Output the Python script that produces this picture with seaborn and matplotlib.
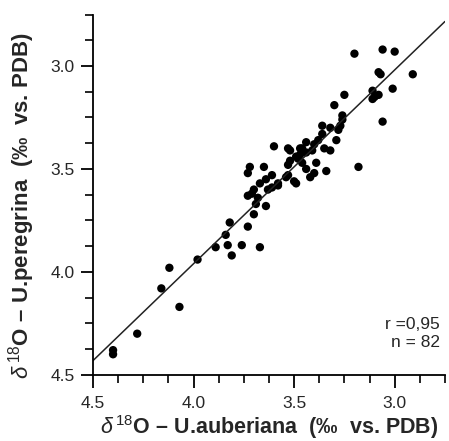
import numpy as np
import pandas as pd
import matplotlib
matplotlib.use("Agg")
import matplotlib.pyplot as plt
import seaborn as sns
from matplotlib.ticker import MultipleLocator

auberiana = [3.20, 3.06, 3.00, 2.91, 3.08, 3.07, 3.01, 3.11, 3.10, 3.08, 3.11, 3.06,
             3.25, 3.30, 3.26, 3.26, 3.27, 3.28, 3.36, 3.36, 3.29, 3.18,
             3.60, 3.53, 3.44, 3.40, 3.47, 3.46, 3.41, 3.35, 3.32, 3.49, 3.48, 3.53,
             3.46, 3.44, 3.39, 3.34, 3.40, 3.42, 3.72, 3.73, 3.65, 3.61, 3.53, 3.54,
             3.50, 3.49, 3.58, 3.58, 3.67, 3.63, 3.61, 3.70, 3.71, 3.73, 3.68, 3.69,
             3.64, 3.70, 3.82, 3.73, 3.84, 3.89, 3.83, 3.76, 3.67, 3.81, 3.98, 4.12,
             4.16, 4.07, 4.28, 4.40, 4.40, 3.47, 3.52, 3.38, 3.64, 3.32, 3.44, 3.52]
peregrina = [2.94, 2.92, 2.93, 3.04, 3.03, 3.04, 3.11, 3.12, 3.15, 3.14, 3.16, 3.27,
             3.14, 3.19, 3.24, 3.26, 3.29, 3.31, 3.29, 3.33, 3.36, 3.49,
             3.39, 3.40, 3.37, 3.38, 3.40, 3.40, 3.41, 3.40, 3.41, 3.44, 3.45, 3.48,
             3.47, 3.50, 3.47, 3.51, 3.52, 3.54, 3.49, 3.52, 3.49, 3.53, 3.53, 3.54,
             3.56, 3.57, 3.57, 3.58, 3.57, 3.60, 3.59, 3.60, 3.62, 3.63, 3.64, 3.67,
             3.68, 3.72, 3.76, 3.78, 3.82, 3.88, 3.87, 3.87, 3.88, 3.92, 3.94, 3.98,
             4.08, 4.17, 4.30, 4.38, 4.40, 3.43, 3.46, 3.36, 3.55, 3.30, 3.42, 3.41]

major_ticks = [4.5, 4.0, 3.5, 3.0]
stats_text = "r =0,95\nn = 82"
xlabel = r"$\delta^{\,18}$O – U.auberiana  (‰  vs. PDB)"
ylabel = r"$\delta^{\,18}$O – U.peregrina  (‰  vs. PDB)"

df = pd.DataFrame({"auberiana": auberiana, "peregrina": peregrina})

sns.set_style("ticks")
plt.rcParams['font.family'] = ['Liberation Sans', 'DejaVu Sans']
plt.rcParams['mathtext.fontset'] = 'custom'
plt.rcParams['mathtext.rm'] = 'Liberation Sans'
plt.rcParams['mathtext.it'] = 'Liberation Sans:italic'
plt.rcParams['mathtext.bf'] = 'Liberation Sans:bold'

fig = plt.figure(figsize=(4.49, 4.41), dpi=100)
ax = fig.add_axes([0.207, 0.150, 0.784, 0.817])
ax.set_xlim(4.5, 2.75)
ax.set_ylim(4.5, 2.75)

sns.regplot(data=df, x="auberiana", y="peregrina", ax=ax, ci=None, truncate=False,
            color="black", scatter_kws=dict(s=36, edgecolor="none", alpha=1),
            line_kws=dict(linewidth=1.1, color="#222222"))

ax.set_xlim(4.5, 2.75)
ax.set_ylim(4.5, 2.75)
ax.set_xticks(major_ticks)
ax.set_yticks(major_ticks)
ax.set_xticklabels([f"{v:.1f}" for v in major_ticks])
ax.set_yticklabels([f"{v:.1f}" for v in major_ticks])
ax.xaxis.set_minor_locator(MultipleLocator(0.125))
ax.yaxis.set_minor_locator(MultipleLocator(0.125))
ax.tick_params(which="major", length=9, width=1.3, labelsize=12.5, color="black")
ax.tick_params(axis="x", which="major", pad=6)
ax.tick_params(axis="y", which="major", pad=4)
ax.tick_params(which="minor", length=6, width=1.2, color="black")
for side in ["top", "right"]:
    ax.spines[side].set_visible(False)
for side in ["left", "bottom"]:
    ax.spines[side].set_linewidth(1.3)
    ax.spines[side].set_color("black")

ax.set_xlabel(xlabel, fontsize=15.5, fontweight="bold", labelpad=2)
ax.set_ylabel(ylabel, fontsize=16, fontweight="bold")
ax.yaxis.set_label_coords(-0.158, 0.47)

ax.text(0.985, 0.07, stats_text, transform=ax.transAxes, ha="right", va="bottom",
        fontsize=12.5, linespacing=1.25)

fig.savefig("out.png", dpi=100)
